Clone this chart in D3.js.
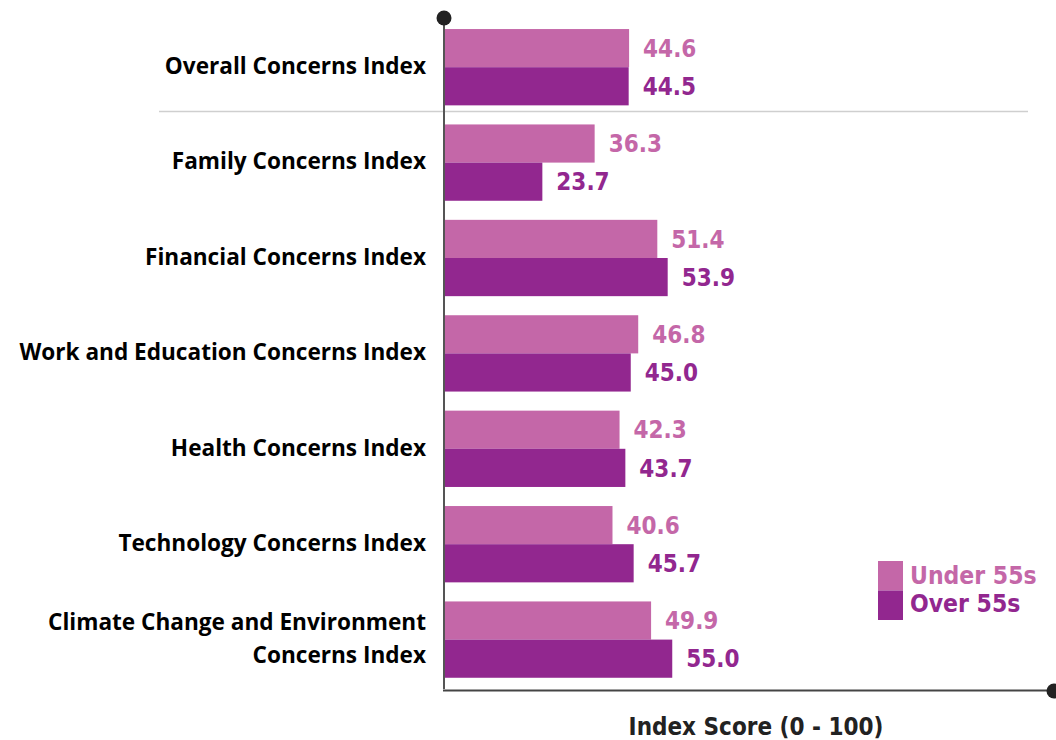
<!DOCTYPE html>
<html>
<head>
<meta charset="utf-8">
<script src="https://cdn.jsdelivr.net/npm/d3@7"></script>
<style>
  body { margin: 0; background: #fff; }
  svg { display: block; }
  .cat { font-family: "Open Sans", Lato, sans-serif; font-weight: bold; font-size: 22.6px; fill: #000; }
  .val { font-family: "DejaVu Sans Condensed", "DejaVu Sans", sans-serif; font-weight: bold; font-size: 24px; }
</style>
</head>
<body>
<div id="chart"></div>
<script>
// categories top to bottom
var categories = [
  ["Overall Concerns Index"],
  ["Family Concerns Index"],
  ["Financial Concerns Index"],
  ["Work and Education Concerns Index"],
  ["Health Concerns Index"],
  ["Technology Concerns Index"],
  ["Climate Change and Environment", "Concerns Index"]
];
var under55 = [44.6, 36.3, 51.4, 46.8, 42.3, 40.6, 49.9];
var over55 = [44.5, 23.7, 53.9, 45.0, 43.7, 45.7, 55.0];
var seriesNames = ["Under 55s", "Over 55s"];
var colors = ["#c467a8", "#92278f"];

var width = 1056;
var height = 740;

var svg = d3.select("#chart")
  .append("svg")
  .attr("width", width)
  .attr("height", height);

//scales
var x = d3.scaleLinear()
  .domain([0, 100])
  .range([444, 859]);

var y = d3.scaleBand()
  .domain(d3.range(categories.length))
  .range([19.5, 687.3])
  .paddingInner(0.2)
  .paddingOuter(0.1);

var sub = d3.scaleBand()
  .domain([0, 1])
  .range([0, y.bandwidth()]);

var rows = categories.map(function(c, i) {
  return {label: c, values: [under55[i], over55[i]]};
});

//separator under the overall index
svg.append("line")
  .attr("x1", 159).attr("x2", 1028)
  .attr("y1", 111.5).attr("y2", 111.5)
  .attr("stroke", "#cfcfcf")
  .attr("stroke-width", 1.5);

var g = svg.selectAll(".grp")
  .data(rows)
  .enter().append("g")
  .attr("class", "grp")
  .attr("transform", function(d, i) { return "translate(0," + y(i) + ")"; });

//bars
g.selectAll("rect")
  .data(function(d) { return d.values; })
  .enter().append("rect")
  .attr("x", x(0))
  .attr("y", function(d, j) { return sub(j); })
  .attr("width", function(d) { return x(d) - x(0); })
  .attr("height", sub.bandwidth())
  .attr("fill", function(d, j) { return colors[j]; });

//value labels
g.selectAll(".val")
  .data(function(d) { return d.values; })
  .enter().append("text")
  .attr("class", "val")
  .attr("x", function(d) { return x(d) + 14; })
  .attr("y", function(d, j) { return sub(j) + sub.bandwidth() / 2; })
  .attr("dy", "0.36em")
  .attr("fill", function(d, j) { return colors[j]; })
  .text(function(d) { return d.toFixed(1); });

//category labels
g.append("text")
  .attr("class", "cat")
  .attr("text-anchor", "end")
  .attr("x", 426)
  .attr("y", y.bandwidth() / 2)
  .selectAll("tspan")
  .data(function(d) { return d.label; })
  .enter().append("tspan")
  .attr("x", 426)
  .attr("dy", function(d, k, nodes) {
    var n = nodes.length;
    return k === 0 ? (0.3 - (n - 1) * 0.73) + "em" : "1.46em";
  })
  .text(function(d) { return d; });

//axes
svg.append("line")
  .attr("x1", x(0)).attr("x2", x(0))
  .attr("y1", 18).attr("y2", 689)
  .attr("stroke", "#555")
  .attr("stroke-width", 2);
svg.append("circle")
  .attr("cx", x(0)).attr("cy", 18).attr("r", 7.5)
  .attr("fill", "#222");

svg.append("line")
  .attr("x1", x(0) - 1).attr("x2", 1053)
  .attr("y1", 690.5).attr("y2", 690.5)
  .attr("stroke", "#444")
  .attr("stroke-width", 2);
svg.append("circle")
  .attr("cx", 1054).attr("cy", 691).attr("r", 7.5)
  .attr("fill", "#222");

svg.append("text")
  .attr("class", "val")
  .attr("x", 756)
  .attr("y", 735)
  .attr("text-anchor", "middle")
  .attr("fill", "#222")
  .style("font-size", "24px")
  .text("Index Score (0 - 100)");

//legend
var leg = svg.append("g").attr("transform", "translate(878,561)");
leg.selectAll("rect")
  .data(seriesNames)
  .enter().append("rect")
  .attr("x", 0)
  .attr("y", function(d, i) { return i * 29.5; })
  .attr("width", 25)
  .attr("height", 29.5)
  .attr("fill", function(d, i) { return colors[i]; });
leg.selectAll("text")
  .data(seriesNames)
  .enter().append("text")
  .attr("class", "val")
  .attr("x", 32)
  .attr("y", function(d, i) { return i * 28 + 14.5; })
  .attr("dy", "0.36em")
  .attr("fill", function(d, i) { return colors[i]; })
  .style("font-size", "24.5px")
  .text(function(d) { return d; });
</script>
</body>
</html>
